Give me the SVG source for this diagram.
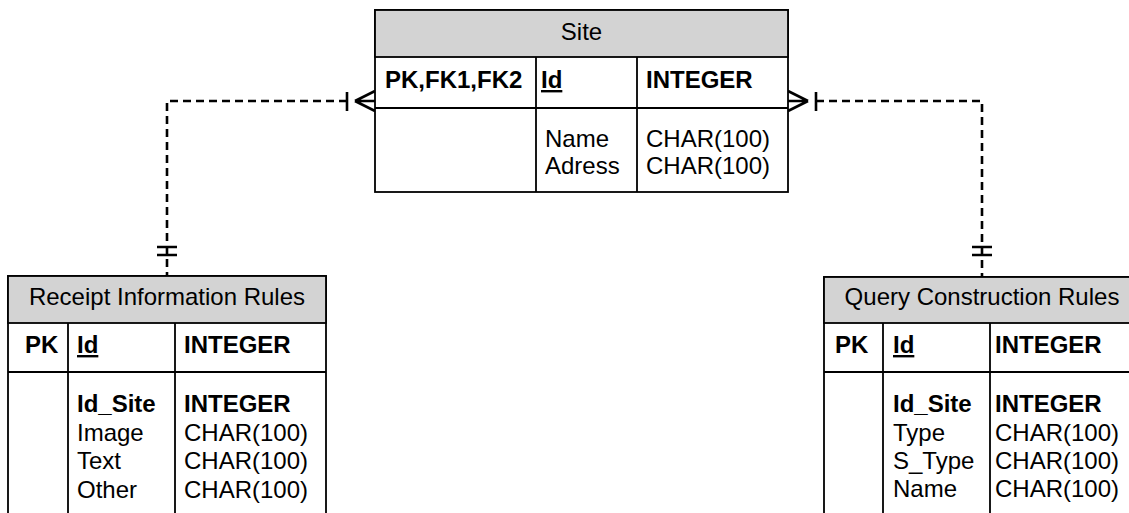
<svg xmlns="http://www.w3.org/2000/svg" width="1129" height="513" viewBox="0 0 1129 513">
<style>
.box{fill:#fff;stroke:#000;stroke-width:1.8}
.hdr{fill:#d3d3d3;stroke:#000;stroke-width:1.8}
.ln{stroke:#000;stroke-width:1.8;fill:none}
text{font-family:"Liberation Sans",Arial,sans-serif;font-size:24px;fill:#000}
.t{text-anchor:middle}
.b{font-weight:bold}
.u{font-weight:bold;text-decoration:underline}
.conn{stroke:#000;stroke-width:2.6;fill:none;stroke-dasharray:8 5}
.mk{stroke:#000;stroke-width:2.6;fill:none}
</style>
<g id="connectors">
<path class="conn" d="M347,101 H167 V276"/>
<path class="mk" d="M347,92 V111 M355,101 L375,91 M355,101 L375,111 M355,101 H375"/>
<path class="mk" d="M157,247 H177 M157,255 H177"/>
<path class="conn" d="M816,101 H982 V277"/>
<path class="mk" d="M816,92 V111 M808,101 L788,91 M808,101 L788,111 M808,101 H788"/>
<path class="mk" d="M972,247 H992 M972,255 H992"/>
</g>
<g id="site">
<rect class="box" x="375" y="10" width="413" height="182"/>
<rect class="hdr" x="375" y="10" width="413" height="47"/>
<path class="ln" d="M375,108 H788 M536,57 V192 M637,57 V192"/>
<text class="t" x="581.5" y="40">Site</text>
<text class="b" x="385" y="88">PK,FK1,FK2</text>
<text class="u" x="541" y="88">Id</text>
<text class="b" x="646" y="88">INTEGER</text>
<text x="545" y="147">Name</text>
<text x="545" y="174">Adress</text>
<text x="646" y="147">CHAR(100)</text>
<text x="646" y="174">CHAR(100)</text>
</g>
<g id="receipt">
<rect class="box" x="8" y="276" width="318" height="250"/>
<rect class="hdr" x="8" y="276" width="318" height="47"/>
<path class="ln" d="M8,372 H326 M68,323 V520 M175,323 V520"/>
<text class="t" x="167" y="305">Receipt Information Rules</text>
<text class="b" x="25" y="353">PK</text>
<text class="u" x="77" y="353">Id</text>
<text class="b" x="184" y="353">INTEGER</text>
<text class="b" x="77" y="412">Id_Site</text>
<text x="77" y="441">Image</text>
<text x="77" y="469">Text</text>
<text x="77" y="498">Other</text>
<text class="b" x="184" y="412">INTEGER</text>
<text x="184" y="441">CHAR(100)</text>
<text x="184" y="469">CHAR(100)</text>
<text x="184" y="498">CHAR(100)</text>
</g>
<g id="query">
<rect class="box" x="824" y="277" width="318" height="250"/>
<rect class="hdr" x="824" y="277" width="318" height="46"/>
<path class="ln" d="M824,372 H1142 M883,323 V520 M990,323 V520"/>
<text class="t" x="982" y="305">Query Construction Rules</text>
<text class="b" x="835" y="353">PK</text>
<text class="u" x="893" y="353">Id</text>
<text class="b" x="995" y="353">INTEGER</text>
<text class="b" x="893" y="412">Id_Site</text>
<text x="893" y="441">Type</text>
<text x="893" y="469">S_Type</text>
<text x="893" y="497">Name</text>
<text class="b" x="995" y="412">INTEGER</text>
<text x="995" y="441">CHAR(100)</text>
<text x="995" y="469">CHAR(100)</text>
<text x="995" y="497">CHAR(100)</text>
</g>
</svg>
